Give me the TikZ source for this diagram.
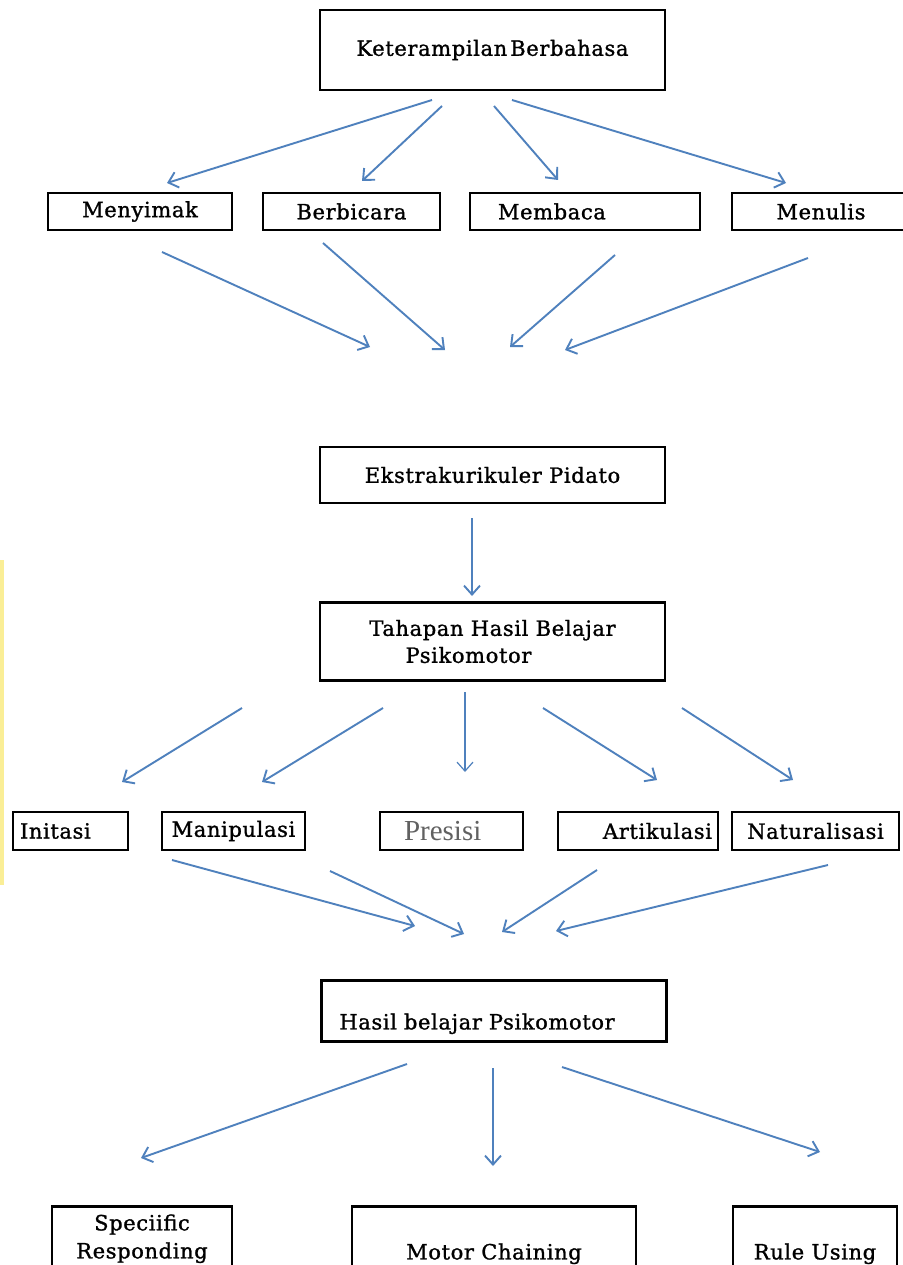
\documentclass[tikz,border=0pt]{standalone}
\usepackage{fontspec}
\setmainfont{DejaVu Serif}[LetterSpace=3, RawFeature={embolden=1.2}]
\newfontfamily\plainserif{Liberation Serif}
\usetikzlibrary{arrows.meta}

\definecolor{linkblue}{RGB}{79,129,189}
\definecolor{edgeyellow}{RGB}{250,238,150}
\tikzset{
	box/.style={draw, line width=2.8pt, inner sep=0pt, font=\fontsize{21}{27}\selectfont},
	link/.style={-{Straight Barb[length=9pt,width=16pt]}, linkblue, line width=1.9pt},
}

\begin{document}
\begin{tikzpicture}[x=1pt, y=-1pt]
	\useasboundingbox[fill=white] (0,0) rectangle (902,1265);
	\draw[edgeyellow, line width=4pt] (2,560) -- (2,885);

	% boxes
	\node[box, minimum width=345, minimum height=80] (keterampilan) at (492.5,50) {Keterampilan\hspace{3pt}Berbahasa};

	\node[box, minimum width=184, minimum height=37] (menyimak) at (140,211.5) {Menyimak};
	\node[box, minimum width=177, minimum height=37] (berbicara) at (351.5,211.5) {Berbicara};
	\node[box, minimum height=37, text width=174, inner xsep=28, align=left] (membaca) at (585,211.5) {Membaca};
	\node[box, minimum width=178, minimum height=37] (menulis) at (821,211.5) {Menulis};

	\node[box, minimum width=345, minimum height=56] (ekstra) at (492.5,475) {Ekstrakurikuler Pidato};
	\node[box, minimum width=345, minimum height=78, align=center] (tahapan) at (492.5,641.5) {Tahapan Hasil Belajar\\ Psikomotor\hspace*{48pt}};

	\node[box, minimum height=38, text width=101, inner xsep=7, align=left] (initasi) at (70.5,831) {Initasi};
	\node[box, minimum width=143, minimum height=38] (manipulasi) at (233.5,831) {Manipulasi};
	\node[box, minimum height=38, text width=95, inner xsep=24, align=left, text=black!62, font=\plainserif\fontsize{29}{30}\selectfont] (presisi) at (451.5,831) {Presisi};
	\node[box, minimum height=38, text width=148, inner xsep=6, align=right] (artikulasi) at (638,831) {Artikulasi};
	\node[box, minimum width=167, minimum height=38] (naturalisasi) at (815.5,831) {Naturalisasi};

	\node[box, anchor=north west, text width=309, inner xsep=18, align=left, text height=49, text depth=12] (hasil) at (320,979) {Hasil belajar Psikomotor};

	\node[box, anchor=north, text width=180, align=center, inner ysep=8, text depth=50, font=\fontsize{21}{28}\selectfont] (specific) at (142,1205) {Speciific\\Responding};
	\node[box, anchor=north, minimum width=284, text height=53, text depth=40] (motor) at (494,1205) {Motor Chaining};
	\node[box, anchor=north, minimum width=164, text height=53, text depth=40] (rule) at (815,1205) {Rule Using};

	% arrow ends
	\coordinate (ket-a) at (432,100);       \coordinate (to-menyimak) at (167,183);
	\coordinate (ket-b) at (442,106);       \coordinate (to-berbicara) at (362,181);
	\coordinate (ket-c) at (494,106);       \coordinate (to-membaca) at (558,180);
	\coordinate (ket-d) at (512,100);       \coordinate (to-menulis) at (786,183);
	\coordinate (menyimak-out) at (162,252);   \coordinate (in-a) at (370,347);
	\coordinate (berbicara-out) at (323,243);  \coordinate (in-b) at (445,350);
	\coordinate (membaca-out) at (615,255);    \coordinate (in-c) at (510,347);
	\coordinate (menulis-out) at (808,258);    \coordinate (in-d) at (565,350);
	\coordinate (ekstra-out) at (472,518);     \coordinate (tahapan-in) at (472,596);
	\coordinate (tah-a) at (242,708);       \coordinate (to-initasi) at (122,782);
	\coordinate (tah-b) at (383,708);       \coordinate (to-manipulasi) at (262,782);
	\coordinate (tah-c) at (465,692);       \coordinate (to-presisi) at (465,772);
	\coordinate (tah-d) at (543,708);       \coordinate (to-artikulasi) at (657,780);
	\coordinate (tah-e) at (682,708);       \coordinate (to-naturalisasi) at (793,780);
	\coordinate (manipulasi-out) at (172,860);   \coordinate (in-e) at (415,926);
	\coordinate (presisi-out) at (330,871);      \coordinate (in-f) at (464,934);
	\coordinate (artikulasi-out) at (597,870);   \coordinate (in-g) at (502,932);
	\coordinate (naturalisasi-out) at (828,865); \coordinate (in-h) at (556,931);
	\coordinate (has-a) at (407,1064);      \coordinate (to-specific) at (141,1158);
	\coordinate (has-b) at (493,1068);      \coordinate (to-motor) at (493,1166);
	\coordinate (has-c) at (562,1067);      \coordinate (to-rule) at (820,1152);

	\path[link]
	(ket-a) edge (to-menyimak)
	(ket-b) edge (to-berbicara)
	(ket-c) edge (to-membaca)
	(ket-d) edge (to-menulis)
	(menyimak-out) edge (in-a)
	(berbicara-out) edge (in-b)
	(membaca-out) edge (in-c)
	(menulis-out) edge (in-d)
	(ekstra-out) edge (tahapan-in)
	(tah-a) edge (to-initasi)
	(tah-b) edge (to-manipulasi)
	(tah-c) edge[line width=1.2pt] (to-presisi)
	(tah-d) edge (to-artikulasi)
	(tah-e) edge (to-naturalisasi)
	(manipulasi-out) edge (in-e)
	(presisi-out) edge (in-f)
	(artikulasi-out) edge (in-g)
	(naturalisasi-out) edge (in-h)
	(has-a) edge (to-specific)
	(has-b) edge (to-motor)
	(has-c) edge (to-rule);
\end{tikzpicture}
\end{document}
